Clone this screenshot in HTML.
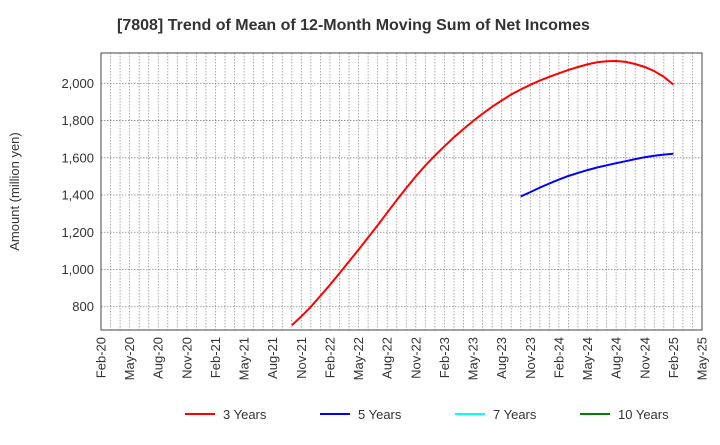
<!DOCTYPE html>
<html><head><meta charset="utf-8"><style>
body{margin:0;background:#fff;font-family:"Liberation Sans",sans-serif;}
svg text{font-family:"Liberation Sans",sans-serif;fill:#333;}
</style></head><body>
<svg id="chart" width="720" height="440">
<text x="117" y="30" font-size="16" font-weight="bold">[7808]  Trend of Mean of 12-Month Moving Sum of Net Incomes</text>
<g id="grid"></g><g id="axes"></g><g id="series"></g><g id="legend"></g>
</svg>
<script>
const monthLabels=["Feb-20","May-20","Aug-20","Nov-20","Feb-21","May-21","Aug-21","Nov-21","Feb-22","May-22","Aug-22","Nov-22","Feb-23","May-23","Aug-23","Nov-23","Feb-24","May-24","Aug-24","Nov-24","Feb-25","May-25"];
const yTicks=[800,1000,1200,1400,1600,1800,2000];
const red3y=[700,748,800,858,918,980,1043,1107,1172,1238,1305,1372,1438,1500,1558,1612,1662,1710,1755,1797,1837,1874,1908,1940,1967,1992,2015,2035,2054,2072,2088,2102,2113,2119,2120,2115,2104,2088,2066,2035,1993];
const red3yStart=20;
const blue5y=[1392,1416,1440,1462,1483,1502,1519,1534,1548,1560,1571,1582,1593,1603,1611,1617,1622];
const blue5yStart=44;
const legendNames=["3 Years","5 Years","7 Years","10 Years"];
const legendColors=["#ff0000","#0000ff","#00ffff","#008000"];
const L=101,R=702,T=53,B=330,NM=63,YMIN=675,YMAX=2163;
const xs=m=>L+(R-L)*m/NM;
const ys=v=>B-(B-T)*(v-YMIN)/(YMAX-YMIN);
const NS="http://www.w3.org/2000/svg";
function mk(tag,attrs,parent){const e=document.createElementNS(NS,tag);for(const k in attrs)e.setAttribute(k,attrs[k]);document.getElementById(parent).appendChild(e);return e;}
for(let m=1;m<NM;m++){const l=mk('line',{x1:xs(m),x2:xs(m),y1:T,y2:B,stroke:'#999','stroke-dasharray':'1.5,1.5','stroke-width':0.8},'grid');

}
yTicks.forEach(v=>{const l=mk('line',{x1:L,x2:R,y1:ys(v),y2:ys(v),stroke:'#888','stroke-dasharray':'1.5,1.5','stroke-width':0.8},'grid');


const t=mk('text',{x:L-7,y:ys(v)+4.5,'text-anchor':'end','font-size':'13'},'axes');t.textContent=v.toLocaleString('en-US');

});
monthLabels.forEach((s,i)=>{const x=xs(i*3);const t=mk('text',{transform:`translate(${x+4.5},${B+7}) rotate(-90)`,'text-anchor':'end','font-size':'13'},'axes');t.textContent=s;

});
const fr=mk('rect',{x:L,y:T,width:R-L,height:B-T,fill:'none',stroke:'#444','stroke-width':1},'axes');


const yt=mk('text',{transform:`translate(19,${(T+B)/2}) rotate(-90)`,'text-anchor':'middle','font-size':'13'},'axes');yt.textContent='Amount (million yen)';


function line(arr,start,color,name){const p=arr.map((v,i)=>xs(start+i).toFixed(1)+','+ys(v).toFixed(1)).join(' ');
const e=mk('polyline',{points:p,fill:'none',stroke:color,'stroke-width':2},'series');

}
line(red3y,red3yStart,'#ff0000','series-3-years');
line(blue5y,blue5yStart,'#0000ff','series-5-years');
const lx=[185,320,455,580];
legendNames.forEach((n,i)=>{const g=mk('g',{},'legend');


const l=document.createElementNS(NS,'line');l.setAttribute('x1',lx[i]);l.setAttribute('x2',lx[i]+30);l.setAttribute('y1',414);l.setAttribute('y2',414);l.setAttribute('stroke',legendColors[i]);l.setAttribute('stroke-width',2);g.appendChild(l);
const t=document.createElementNS(NS,'text');t.setAttribute('x',lx[i]+38);t.setAttribute('y',419);t.setAttribute('font-size','13');t.textContent=n;g.appendChild(t);});
</script>
</body></html>
